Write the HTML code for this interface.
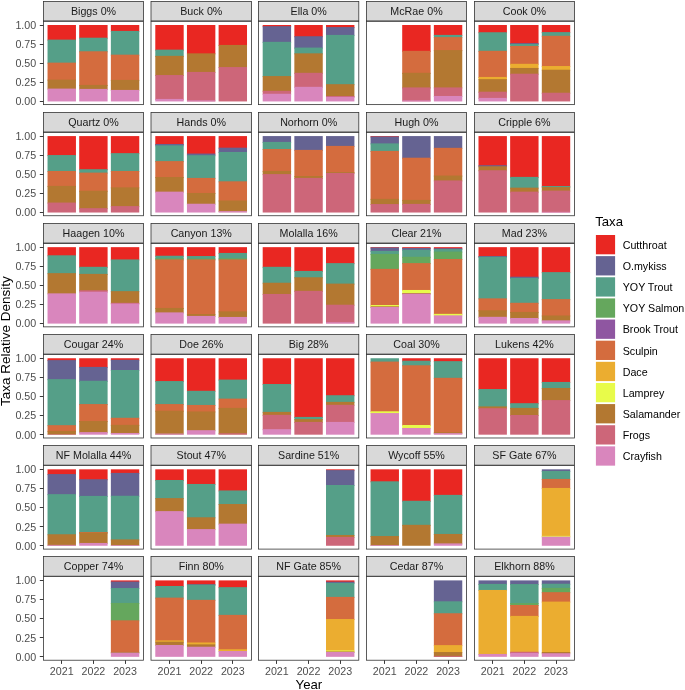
<!DOCTYPE html>
<html><head><meta charset="utf-8"><style>html,body{margin:0;padding:0;background:#fff;width:685px;height:690px;overflow:hidden;}svg{display:block;font-family:"Liberation Sans",sans-serif;will-change:transform;}</style></head><body>
<svg width="685" height="690" viewBox="0 0 685 690">
<rect x="0" y="0" width="685" height="690" fill="#FFFFFF"/>
<rect x="47.54" y="25" width="28.4" height="15.62" fill="#E92722"/>
<rect x="47.54" y="39.62" width="28.4" height="24.02" fill="#559F88"/>
<rect x="47.54" y="62.64" width="28.4" height="17.97" fill="#D46C3E"/>
<rect x="47.54" y="79.6" width="28.4" height="10" fill="#B37831"/>
<rect x="47.54" y="88.6" width="28.4" height="12.84" fill="#D986BD"/>
<rect x="79.2" y="25" width="28.4" height="13.7" fill="#E92722"/>
<rect x="79.2" y="37.7" width="28.4" height="14.57" fill="#559F88"/>
<rect x="79.2" y="51.28" width="28.4" height="34.64" fill="#D46C3E"/>
<rect x="79.2" y="84.92" width="28.4" height="4.98" fill="#B37831"/>
<rect x="79.2" y="88.9" width="28.4" height="12.54" fill="#D986BD"/>
<rect x="110.86" y="25" width="28.4" height="6.92" fill="#E92722"/>
<rect x="110.86" y="30.92" width="28.4" height="24.75" fill="#559F88"/>
<rect x="110.86" y="54.67" width="28.4" height="26.23" fill="#D46C3E"/>
<rect x="110.86" y="79.9" width="28.4" height="11.03" fill="#B37831"/>
<rect x="110.86" y="89.93" width="28.4" height="11.51" fill="#D986BD"/>
<rect x="43.5" y="21.3" width="100" height="83.32" fill="none" stroke="#333333" stroke-width="0.8"/>
<rect x="43.5" y="1.5" width="100" height="19.4" fill="#D9D9D9" stroke="#333333" stroke-width="0.8"/>
<text x="93.5" y="14.85" text-anchor="middle" font-size="10.7" fill="#1A1A1A" font-family="Liberation Sans, sans-serif">Biggs 0%</text>
<rect x="155.29" y="25" width="28.4" height="25.65" fill="#E92722"/>
<rect x="155.29" y="49.65" width="28.4" height="7.2" fill="#559F88"/>
<rect x="155.29" y="55.85" width="28.4" height="20.18" fill="#B37831"/>
<rect x="155.29" y="75.03" width="28.4" height="24.9" fill="#CD6679"/>
<rect x="155.29" y="98.93" width="28.4" height="2.51" fill="#D986BD"/>
<rect x="186.95" y="25" width="28.4" height="29.34" fill="#E92722"/>
<rect x="186.95" y="53.34" width="28.4" height="19.59" fill="#B37831"/>
<rect x="186.95" y="71.93" width="28.4" height="29.48" fill="#CD6679"/>
<rect x="186.95" y="100.41" width="28.4" height="1.03" fill="#D986BD"/>
<rect x="218.61" y="25" width="28.4" height="20.93" fill="#E92722"/>
<rect x="218.61" y="44.93" width="28.4" height="23.13" fill="#B37831"/>
<rect x="218.61" y="67.06" width="28.4" height="34.38" fill="#CD6679"/>
<rect x="151" y="21.3" width="100.5" height="83.32" fill="none" stroke="#333333" stroke-width="0.8"/>
<rect x="151" y="1.5" width="100.5" height="19.4" fill="#D9D9D9" stroke="#333333" stroke-width="0.8"/>
<text x="201.25" y="14.85" text-anchor="middle" font-size="10.7" fill="#1A1A1A" font-family="Liberation Sans, sans-serif">Buck 0%</text>
<rect x="262.69" y="25" width="28.4" height="2.2" fill="#E92722"/>
<rect x="262.69" y="26.2" width="28.4" height="16.64" fill="#656392"/>
<rect x="262.69" y="41.83" width="28.4" height="35.23" fill="#559F88"/>
<rect x="262.69" y="76.06" width="28.4" height="15.75" fill="#B37831"/>
<rect x="262.69" y="90.82" width="28.4" height="3.95" fill="#CD6679"/>
<rect x="262.69" y="93.77" width="28.4" height="7.67" fill="#D986BD"/>
<rect x="294.35" y="25" width="28.4" height="12.23" fill="#E92722"/>
<rect x="294.35" y="36.23" width="28.4" height="12.36" fill="#656392"/>
<rect x="294.35" y="47.59" width="28.4" height="6.75" fill="#559F88"/>
<rect x="294.35" y="53.34" width="28.4" height="20.48" fill="#B37831"/>
<rect x="294.35" y="72.82" width="28.4" height="15.02" fill="#CD6679"/>
<rect x="294.35" y="86.83" width="28.4" height="14.61" fill="#D986BD"/>
<rect x="326.01" y="25" width="28.4" height="3.08" fill="#E92722"/>
<rect x="326.01" y="27.08" width="28.4" height="8.82" fill="#656392"/>
<rect x="326.01" y="34.9" width="28.4" height="50.28" fill="#559F88"/>
<rect x="326.01" y="84.18" width="28.4" height="12.8" fill="#B37831"/>
<rect x="326.01" y="95.98" width="28.4" height="1.89" fill="#CD6679"/>
<rect x="326.01" y="96.87" width="28.4" height="4.57" fill="#D986BD"/>
<rect x="258.5" y="21.3" width="100.3" height="83.32" fill="none" stroke="#333333" stroke-width="0.8"/>
<rect x="258.5" y="1.5" width="100.3" height="19.4" fill="#D9D9D9" stroke="#333333" stroke-width="0.8"/>
<text x="308.65" y="14.85" text-anchor="middle" font-size="10.7" fill="#1A1A1A" font-family="Liberation Sans, sans-serif">Ella 0%</text>
<rect x="402.2" y="25" width="28.4" height="26.83" fill="#E92722"/>
<rect x="402.2" y="50.83" width="28.4" height="22.98" fill="#D46C3E"/>
<rect x="402.2" y="72.82" width="28.4" height="15.61" fill="#B37831"/>
<rect x="402.2" y="87.42" width="28.4" height="13.98" fill="#CD6679"/>
<rect x="402.2" y="100.41" width="28.4" height="1.03" fill="#D986BD"/>
<rect x="433.86" y="25" width="28.4" height="10.9" fill="#E92722"/>
<rect x="433.86" y="34.9" width="28.4" height="3.21" fill="#559F88"/>
<rect x="433.86" y="37.11" width="28.4" height="13.98" fill="#D46C3E"/>
<rect x="433.86" y="50.1" width="28.4" height="38.33" fill="#B37831"/>
<rect x="433.86" y="87.42" width="28.4" height="9.56" fill="#CD6679"/>
<rect x="433.86" y="95.98" width="28.4" height="5.46" fill="#D986BD"/>
<rect x="366.5" y="21.3" width="100" height="83.32" fill="none" stroke="#333333" stroke-width="0.8"/>
<rect x="366.5" y="1.5" width="100" height="19.4" fill="#D9D9D9" stroke="#333333" stroke-width="0.8"/>
<text x="416.5" y="14.85" text-anchor="middle" font-size="10.7" fill="#1A1A1A" font-family="Liberation Sans, sans-serif">McRae 0%</text>
<rect x="478.49" y="25" width="28.4" height="8.24" fill="#E92722"/>
<rect x="478.49" y="32.24" width="28.4" height="19.59" fill="#559F88"/>
<rect x="478.49" y="50.83" width="28.4" height="27.11" fill="#D46C3E"/>
<rect x="478.49" y="76.95" width="28.4" height="3.21" fill="#EBAD30"/>
<rect x="478.49" y="79.16" width="28.4" height="13.54" fill="#B37831"/>
<rect x="478.49" y="91.7" width="28.4" height="7.2" fill="#CD6679"/>
<rect x="478.49" y="97.9" width="28.4" height="3.54" fill="#D986BD"/>
<rect x="510.15" y="25" width="28.4" height="19.16" fill="#E92722"/>
<rect x="510.15" y="43.16" width="28.4" height="1.74" fill="#656392"/>
<rect x="510.15" y="43.9" width="28.4" height="3.07" fill="#559F88"/>
<rect x="510.15" y="45.97" width="28.4" height="18.85" fill="#D46C3E"/>
<rect x="510.15" y="63.82" width="28.4" height="5.13" fill="#EBAD30"/>
<rect x="510.15" y="67.95" width="28.4" height="6.75" fill="#B37831"/>
<rect x="510.15" y="73.7" width="28.4" height="27.74" fill="#CD6679"/>
<rect x="541.81" y="25" width="28.4" height="8.1" fill="#E92722"/>
<rect x="541.81" y="32.1" width="28.4" height="4.69" fill="#559F88"/>
<rect x="541.81" y="35.79" width="28.4" height="31.25" fill="#D46C3E"/>
<rect x="541.81" y="66.03" width="28.4" height="4.69" fill="#EBAD30"/>
<rect x="541.81" y="69.72" width="28.4" height="24.02" fill="#B37831"/>
<rect x="541.81" y="92.74" width="28.4" height="8.7" fill="#CD6679"/>
<rect x="474.4" y="21.3" width="100.1" height="83.32" fill="none" stroke="#333333" stroke-width="0.8"/>
<rect x="474.4" y="1.5" width="100.1" height="19.4" fill="#D9D9D9" stroke="#333333" stroke-width="0.8"/>
<text x="524.45" y="14.85" text-anchor="middle" font-size="10.7" fill="#1A1A1A" font-family="Liberation Sans, sans-serif">Cook 0%</text>
<line x1="39.8" y1="101.5" x2="43.5" y2="101.5" stroke="#3A3A3A" stroke-width="1"/>
<text x="36.2" y="105.29" text-anchor="end" font-size="10.7" fill="#4D4D4D" font-family="Liberation Sans, sans-serif">0.00</text>
<line x1="39.8" y1="82.5" x2="43.5" y2="82.5" stroke="#3A3A3A" stroke-width="1"/>
<text x="36.2" y="86.18" text-anchor="end" font-size="10.7" fill="#4D4D4D" font-family="Liberation Sans, sans-serif">0.25</text>
<line x1="39.8" y1="63.5" x2="43.5" y2="63.5" stroke="#3A3A3A" stroke-width="1"/>
<text x="36.2" y="67.07" text-anchor="end" font-size="10.7" fill="#4D4D4D" font-family="Liberation Sans, sans-serif">0.50</text>
<line x1="39.8" y1="44.5" x2="43.5" y2="44.5" stroke="#3A3A3A" stroke-width="1"/>
<text x="36.2" y="47.96" text-anchor="end" font-size="10.7" fill="#4D4D4D" font-family="Liberation Sans, sans-serif">0.75</text>
<line x1="39.8" y1="25.5" x2="43.5" y2="25.5" stroke="#3A3A3A" stroke-width="1"/>
<text x="36.2" y="28.85" text-anchor="end" font-size="10.7" fill="#4D4D4D" font-family="Liberation Sans, sans-serif">1.00</text>
<rect x="47.54" y="136.08" width="28.4" height="19.98" fill="#E92722"/>
<rect x="47.54" y="155.06" width="28.4" height="16.93" fill="#559F88"/>
<rect x="47.54" y="170.99" width="28.4" height="15.9" fill="#D46C3E"/>
<rect x="47.54" y="185.89" width="28.4" height="17.67" fill="#B37831"/>
<rect x="47.54" y="202.56" width="28.4" height="9.96" fill="#CD6679"/>
<rect x="79.2" y="136.08" width="28.4" height="34.14" fill="#E92722"/>
<rect x="79.2" y="169.22" width="28.4" height="4.39" fill="#559F88"/>
<rect x="79.2" y="172.61" width="28.4" height="19.15" fill="#D46C3E"/>
<rect x="79.2" y="190.76" width="28.4" height="18.41" fill="#B37831"/>
<rect x="79.2" y="208.17" width="28.4" height="4.35" fill="#CD6679"/>
<rect x="110.86" y="136.08" width="28.4" height="18.06" fill="#E92722"/>
<rect x="110.86" y="153.14" width="28.4" height="18.85" fill="#559F88"/>
<rect x="110.86" y="170.99" width="28.4" height="17.38" fill="#D46C3E"/>
<rect x="110.86" y="187.37" width="28.4" height="19.74" fill="#B37831"/>
<rect x="110.86" y="206.1" width="28.4" height="6.42" fill="#CD6679"/>
<rect x="43.5" y="132.36" width="100" height="83.38" fill="none" stroke="#333333" stroke-width="0.8"/>
<rect x="43.5" y="112.5" width="100" height="19.46" fill="#D9D9D9" stroke="#333333" stroke-width="0.8"/>
<text x="93.5" y="125.93" text-anchor="middle" font-size="10.7" fill="#1A1A1A" font-family="Liberation Sans, sans-serif">Quartz 0%</text>
<rect x="155.29" y="136.08" width="28.4" height="8.91" fill="#E92722"/>
<rect x="155.29" y="143.99" width="28.4" height="2.33" fill="#656392"/>
<rect x="155.29" y="145.32" width="28.4" height="16.79" fill="#559F88"/>
<rect x="155.29" y="161.11" width="28.4" height="16.93" fill="#D46C3E"/>
<rect x="155.29" y="177.04" width="28.4" height="15.61" fill="#B37831"/>
<rect x="155.29" y="191.64" width="28.4" height="20.88" fill="#D986BD"/>
<rect x="186.95" y="136.08" width="28.4" height="18.5" fill="#E92722"/>
<rect x="186.95" y="153.58" width="28.4" height="2.62" fill="#656392"/>
<rect x="186.95" y="155.21" width="28.4" height="23.72" fill="#559F88"/>
<rect x="186.95" y="177.92" width="28.4" height="16.05" fill="#D46C3E"/>
<rect x="186.95" y="192.97" width="28.4" height="11.77" fill="#B37831"/>
<rect x="186.95" y="203.74" width="28.4" height="8.78" fill="#D986BD"/>
<rect x="218.61" y="136.08" width="28.4" height="12.6" fill="#E92722"/>
<rect x="218.61" y="147.68" width="28.4" height="5.28" fill="#656392"/>
<rect x="218.61" y="151.96" width="28.4" height="30.36" fill="#559F88"/>
<rect x="218.61" y="181.32" width="28.4" height="20.18" fill="#D46C3E"/>
<rect x="218.61" y="200.5" width="28.4" height="11.62" fill="#B37831"/>
<rect x="218.61" y="211.12" width="28.4" height="1.4" fill="#D986BD"/>
<rect x="151" y="132.36" width="100.5" height="83.38" fill="none" stroke="#333333" stroke-width="0.8"/>
<rect x="151" y="112.5" width="100.5" height="19.46" fill="#D9D9D9" stroke="#333333" stroke-width="0.8"/>
<text x="201.25" y="125.93" text-anchor="middle" font-size="10.7" fill="#1A1A1A" font-family="Liberation Sans, sans-serif">Hands 0%</text>
<rect x="262.69" y="136.08" width="28.4" height="6.85" fill="#656392"/>
<rect x="262.69" y="141.93" width="28.4" height="8.08" fill="#559F88"/>
<rect x="262.69" y="149.01" width="28.4" height="22.98" fill="#D46C3E"/>
<rect x="262.69" y="170.99" width="28.4" height="4.1" fill="#B37831"/>
<rect x="262.69" y="174.09" width="28.4" height="38.43" fill="#CD6679"/>
<rect x="294.35" y="136.08" width="28.4" height="14.81" fill="#656392"/>
<rect x="294.35" y="149.89" width="28.4" height="27.11" fill="#D46C3E"/>
<rect x="294.35" y="176.01" width="28.4" height="2.92" fill="#B37831"/>
<rect x="294.35" y="177.92" width="28.4" height="34.6" fill="#CD6679"/>
<rect x="326.01" y="136.08" width="28.4" height="10.83" fill="#656392"/>
<rect x="326.01" y="145.91" width="28.4" height="27.11" fill="#D46C3E"/>
<rect x="326.01" y="172.02" width="28.4" height="1.89" fill="#B37831"/>
<rect x="326.01" y="172.91" width="28.4" height="39.61" fill="#CD6679"/>
<rect x="258.5" y="132.36" width="100.3" height="83.38" fill="none" stroke="#333333" stroke-width="0.8"/>
<rect x="258.5" y="112.5" width="100.3" height="19.46" fill="#D9D9D9" stroke="#333333" stroke-width="0.8"/>
<text x="308.65" y="125.93" text-anchor="middle" font-size="10.7" fill="#1A1A1A" font-family="Liberation Sans, sans-serif">Norhorn 0%</text>
<rect x="370.54" y="136.08" width="28.4" height="1.39" fill="#E92722"/>
<rect x="370.54" y="136.47" width="28.4" height="7.93" fill="#656392"/>
<rect x="370.54" y="143.4" width="28.4" height="8.52" fill="#559F88"/>
<rect x="370.54" y="150.93" width="28.4" height="48.95" fill="#D46C3E"/>
<rect x="370.54" y="198.87" width="28.4" height="6.16" fill="#B37831"/>
<rect x="370.54" y="204.04" width="28.4" height="8.48" fill="#CD6679"/>
<rect x="402.2" y="136.08" width="28.4" height="22.63" fill="#656392"/>
<rect x="402.2" y="157.71" width="28.4" height="43.19" fill="#D46C3E"/>
<rect x="402.2" y="199.91" width="28.4" height="4.98" fill="#B37831"/>
<rect x="402.2" y="203.89" width="28.4" height="8.63" fill="#CD6679"/>
<rect x="433.86" y="136.08" width="28.4" height="12.75" fill="#656392"/>
<rect x="433.86" y="147.83" width="28.4" height="28.74" fill="#D46C3E"/>
<rect x="433.86" y="175.56" width="28.4" height="5.87" fill="#B37831"/>
<rect x="433.86" y="180.43" width="28.4" height="32.09" fill="#CD6679"/>
<rect x="366.5" y="132.36" width="100" height="83.38" fill="none" stroke="#333333" stroke-width="0.8"/>
<rect x="366.5" y="112.5" width="100" height="19.46" fill="#D9D9D9" stroke="#333333" stroke-width="0.8"/>
<text x="416.5" y="125.93" text-anchor="middle" font-size="10.7" fill="#1A1A1A" font-family="Liberation Sans, sans-serif">Hugh 0%</text>
<rect x="478.49" y="136.08" width="28.4" height="30.16" fill="#E92722"/>
<rect x="478.49" y="165.24" width="28.4" height="2.03" fill="#656392"/>
<rect x="478.49" y="166.27" width="28.4" height="4.98" fill="#B37831"/>
<rect x="478.49" y="170.25" width="28.4" height="42.27" fill="#CD6679"/>
<rect x="510.15" y="136.08" width="28.4" height="41.81" fill="#E92722"/>
<rect x="510.15" y="176.89" width="28.4" height="11.77" fill="#559F88"/>
<rect x="510.15" y="187.66" width="28.4" height="4.98" fill="#B37831"/>
<rect x="510.15" y="191.64" width="28.4" height="20.88" fill="#CD6679"/>
<rect x="541.81" y="136.08" width="28.4" height="50.96" fill="#E92722"/>
<rect x="541.81" y="186.04" width="28.4" height="2.03" fill="#559F88"/>
<rect x="541.81" y="187.07" width="28.4" height="4.54" fill="#B37831"/>
<rect x="541.81" y="190.61" width="28.4" height="21.91" fill="#CD6679"/>
<rect x="541.81" y="211.86" width="28.4" height="0.66" fill="#D986BD"/>
<rect x="474.4" y="132.36" width="100.1" height="83.38" fill="none" stroke="#333333" stroke-width="0.8"/>
<rect x="474.4" y="112.5" width="100.1" height="19.46" fill="#D9D9D9" stroke="#333333" stroke-width="0.8"/>
<text x="524.45" y="125.93" text-anchor="middle" font-size="10.7" fill="#1A1A1A" font-family="Liberation Sans, sans-serif">Cripple 6%</text>
<line x1="39.8" y1="212.5" x2="43.5" y2="212.5" stroke="#3A3A3A" stroke-width="1"/>
<text x="36.2" y="216.37" text-anchor="end" font-size="10.7" fill="#4D4D4D" font-family="Liberation Sans, sans-serif">0.00</text>
<line x1="39.8" y1="193.5" x2="43.5" y2="193.5" stroke="#3A3A3A" stroke-width="1"/>
<text x="36.2" y="197.26" text-anchor="end" font-size="10.7" fill="#4D4D4D" font-family="Liberation Sans, sans-serif">0.25</text>
<line x1="39.8" y1="174.5" x2="43.5" y2="174.5" stroke="#3A3A3A" stroke-width="1"/>
<text x="36.2" y="178.15" text-anchor="end" font-size="10.7" fill="#4D4D4D" font-family="Liberation Sans, sans-serif">0.50</text>
<line x1="39.8" y1="155.5" x2="43.5" y2="155.5" stroke="#3A3A3A" stroke-width="1"/>
<text x="36.2" y="159.04" text-anchor="end" font-size="10.7" fill="#4D4D4D" font-family="Liberation Sans, sans-serif">0.75</text>
<line x1="39.8" y1="136.5" x2="43.5" y2="136.5" stroke="#3A3A3A" stroke-width="1"/>
<text x="36.2" y="139.93" text-anchor="end" font-size="10.7" fill="#4D4D4D" font-family="Liberation Sans, sans-serif">1.00</text>
<rect x="47.54" y="247.16" width="28.4" height="9.14" fill="#E92722"/>
<rect x="47.54" y="255.3" width="28.4" height="18.85" fill="#559F88"/>
<rect x="47.54" y="273.15" width="28.4" height="21.21" fill="#B37831"/>
<rect x="47.54" y="293.36" width="28.4" height="30.24" fill="#D986BD"/>
<rect x="79.2" y="247.16" width="28.4" height="20.65" fill="#E92722"/>
<rect x="79.2" y="266.81" width="28.4" height="8.08" fill="#559F88"/>
<rect x="79.2" y="273.89" width="28.4" height="17.37" fill="#B37831"/>
<rect x="79.2" y="290.26" width="28.4" height="2.48" fill="#CD6679"/>
<rect x="79.2" y="291.74" width="28.4" height="31.86" fill="#D986BD"/>
<rect x="110.86" y="247.16" width="28.4" height="13.27" fill="#E92722"/>
<rect x="110.86" y="259.43" width="28.4" height="32.72" fill="#559F88"/>
<rect x="110.86" y="291.15" width="28.4" height="12.65" fill="#B37831"/>
<rect x="110.86" y="302.8" width="28.4" height="1.74" fill="#CD6679"/>
<rect x="110.86" y="303.54" width="28.4" height="20.06" fill="#D986BD"/>
<rect x="43.5" y="243.42" width="100" height="83.44" fill="none" stroke="#333333" stroke-width="0.8"/>
<rect x="43.5" y="223.5" width="100" height="19.52" fill="#D9D9D9" stroke="#333333" stroke-width="0.8"/>
<text x="93.5" y="237.01" text-anchor="middle" font-size="10.7" fill="#1A1A1A" font-family="Liberation Sans, sans-serif">Haagen 10%</text>
<rect x="155.29" y="247.16" width="28.4" height="9.58" fill="#E92722"/>
<rect x="155.29" y="255.74" width="28.4" height="3.51" fill="#559F88"/>
<rect x="155.29" y="258.25" width="28.4" height="2.18" fill="#65A75D"/>
<rect x="155.29" y="259.43" width="28.4" height="49.53" fill="#D46C3E"/>
<rect x="155.29" y="307.96" width="28.4" height="5.43" fill="#B37831"/>
<rect x="155.29" y="312.39" width="28.4" height="11.21" fill="#D986BD"/>
<rect x="186.95" y="247.16" width="28.4" height="9.88" fill="#E92722"/>
<rect x="186.95" y="256.04" width="28.4" height="3.51" fill="#559F88"/>
<rect x="186.95" y="258.55" width="28.4" height="1.89" fill="#65A75D"/>
<rect x="186.95" y="259.43" width="28.4" height="55.58" fill="#D46C3E"/>
<rect x="186.95" y="314.01" width="28.4" height="2.92" fill="#B37831"/>
<rect x="186.95" y="315.93" width="28.4" height="7.67" fill="#D986BD"/>
<rect x="218.61" y="247.16" width="28.4" height="6.78" fill="#E92722"/>
<rect x="218.61" y="252.94" width="28.4" height="6.31" fill="#559F88"/>
<rect x="218.61" y="258.25" width="28.4" height="2.18" fill="#65A75D"/>
<rect x="218.61" y="259.43" width="28.4" height="52.93" fill="#D46C3E"/>
<rect x="218.61" y="311.36" width="28.4" height="6.61" fill="#B37831"/>
<rect x="218.61" y="316.96" width="28.4" height="6.64" fill="#D986BD"/>
<rect x="151" y="243.42" width="100.5" height="83.44" fill="none" stroke="#333333" stroke-width="0.8"/>
<rect x="151" y="223.5" width="100.5" height="19.52" fill="#D9D9D9" stroke="#333333" stroke-width="0.8"/>
<text x="201.25" y="237.01" text-anchor="middle" font-size="10.7" fill="#1A1A1A" font-family="Liberation Sans, sans-serif">Canyon 13%</text>
<rect x="262.69" y="247.16" width="28.4" height="20.65" fill="#E92722"/>
<rect x="262.69" y="266.81" width="28.4" height="16.93" fill="#559F88"/>
<rect x="262.69" y="282.74" width="28.4" height="12.21" fill="#B37831"/>
<rect x="262.69" y="293.95" width="28.4" height="29.65" fill="#CD6679"/>
<rect x="294.35" y="247.16" width="28.4" height="24.78" fill="#E92722"/>
<rect x="294.35" y="270.94" width="28.4" height="7.34" fill="#559F88"/>
<rect x="294.35" y="277.28" width="28.4" height="14.57" fill="#B37831"/>
<rect x="294.35" y="290.85" width="28.4" height="32.75" fill="#CD6679"/>
<rect x="326.01" y="247.16" width="28.4" height="16.96" fill="#E92722"/>
<rect x="326.01" y="263.12" width="28.4" height="21.5" fill="#559F88"/>
<rect x="326.01" y="283.62" width="28.4" height="22.09" fill="#B37831"/>
<rect x="326.01" y="304.72" width="28.4" height="18.55" fill="#CD6679"/>
<rect x="326.01" y="322.27" width="28.4" height="1.33" fill="#D986BD"/>
<rect x="258.5" y="243.42" width="100.3" height="83.44" fill="none" stroke="#333333" stroke-width="0.8"/>
<rect x="258.5" y="223.5" width="100.3" height="19.52" fill="#D9D9D9" stroke="#333333" stroke-width="0.8"/>
<text x="308.65" y="237.01" text-anchor="middle" font-size="10.7" fill="#1A1A1A" font-family="Liberation Sans, sans-serif">Molalla 16%</text>
<rect x="370.54" y="247.16" width="28.4" height="1.32" fill="#E92722"/>
<rect x="370.54" y="247.48" width="28.4" height="4.39" fill="#656392"/>
<rect x="370.54" y="250.87" width="28.4" height="4.1" fill="#559F88"/>
<rect x="370.54" y="253.97" width="28.4" height="15.9" fill="#65A75D"/>
<rect x="370.54" y="268.87" width="28.4" height="37.14" fill="#D46C3E"/>
<rect x="370.54" y="305.01" width="28.4" height="2.33" fill="#E8FB4A"/>
<rect x="370.54" y="306.34" width="28.4" height="1.59" fill="#B37831"/>
<rect x="370.54" y="306.93" width="28.4" height="16.67" fill="#D986BD"/>
<rect x="402.2" y="247.16" width="28.4" height="1.76" fill="#E92722"/>
<rect x="402.2" y="247.92" width="28.4" height="2.77" fill="#656392"/>
<rect x="402.2" y="249.69" width="28.4" height="8.08" fill="#559F88"/>
<rect x="402.2" y="256.78" width="28.4" height="7.34" fill="#65A75D"/>
<rect x="402.2" y="263.12" width="28.4" height="27.85" fill="#D46C3E"/>
<rect x="402.2" y="289.97" width="28.4" height="4.1" fill="#E8FB4A"/>
<rect x="402.2" y="293.06" width="28.4" height="1.59" fill="#B37831"/>
<rect x="402.2" y="293.65" width="28.4" height="29.95" fill="#D986BD"/>
<rect x="433.86" y="247.16" width="28.4" height="2.06" fill="#E92722"/>
<rect x="433.86" y="248.22" width="28.4" height="1.89" fill="#656392"/>
<rect x="433.86" y="249.1" width="28.4" height="3.51" fill="#559F88"/>
<rect x="433.86" y="251.61" width="28.4" height="8.38" fill="#65A75D"/>
<rect x="433.86" y="258.99" width="28.4" height="55.88" fill="#D46C3E"/>
<rect x="433.86" y="313.86" width="28.4" height="2.48" fill="#E8FB4A"/>
<rect x="433.86" y="315.34" width="28.4" height="8.26" fill="#D986BD"/>
<rect x="366.5" y="243.42" width="100" height="83.44" fill="none" stroke="#333333" stroke-width="0.8"/>
<rect x="366.5" y="223.5" width="100" height="19.52" fill="#D9D9D9" stroke="#333333" stroke-width="0.8"/>
<text x="416.5" y="237.01" text-anchor="middle" font-size="10.7" fill="#1A1A1A" font-family="Liberation Sans, sans-serif">Clear 21%</text>
<rect x="478.49" y="247.16" width="28.4" height="9.88" fill="#E92722"/>
<rect x="478.49" y="256.04" width="28.4" height="1.74" fill="#656392"/>
<rect x="478.49" y="256.78" width="28.4" height="42.6" fill="#559F88"/>
<rect x="478.49" y="298.37" width="28.4" height="12.95" fill="#D46C3E"/>
<rect x="478.49" y="310.32" width="28.4" height="7.49" fill="#B37831"/>
<rect x="478.49" y="316.81" width="28.4" height="6.79" fill="#D986BD"/>
<rect x="510.15" y="247.16" width="28.4" height="30.53" fill="#E92722"/>
<rect x="510.15" y="276.69" width="28.4" height="2.18" fill="#656392"/>
<rect x="510.15" y="277.87" width="28.4" height="25.93" fill="#559F88"/>
<rect x="510.15" y="302.8" width="28.4" height="10.15" fill="#D46C3E"/>
<rect x="510.15" y="311.95" width="28.4" height="7.05" fill="#B37831"/>
<rect x="510.15" y="317.99" width="28.4" height="5.61" fill="#D986BD"/>
<rect x="541.81" y="247.16" width="28.4" height="25.96" fill="#E92722"/>
<rect x="541.81" y="272.12" width="28.4" height="28" fill="#559F88"/>
<rect x="541.81" y="299.11" width="28.4" height="17.37" fill="#D46C3E"/>
<rect x="541.81" y="315.49" width="28.4" height="5.87" fill="#B37831"/>
<rect x="541.81" y="320.35" width="28.4" height="3.25" fill="#D986BD"/>
<rect x="474.4" y="243.42" width="100.1" height="83.44" fill="none" stroke="#333333" stroke-width="0.8"/>
<rect x="474.4" y="223.5" width="100.1" height="19.52" fill="#D9D9D9" stroke="#333333" stroke-width="0.8"/>
<text x="524.45" y="237.01" text-anchor="middle" font-size="10.7" fill="#1A1A1A" font-family="Liberation Sans, sans-serif">Mad 23%</text>
<line x1="39.8" y1="323.5" x2="43.5" y2="323.5" stroke="#3A3A3A" stroke-width="1"/>
<text x="36.2" y="327.45" text-anchor="end" font-size="10.7" fill="#4D4D4D" font-family="Liberation Sans, sans-serif">0.00</text>
<line x1="39.8" y1="304.5" x2="43.5" y2="304.5" stroke="#3A3A3A" stroke-width="1"/>
<text x="36.2" y="308.34" text-anchor="end" font-size="10.7" fill="#4D4D4D" font-family="Liberation Sans, sans-serif">0.25</text>
<line x1="39.8" y1="285.5" x2="43.5" y2="285.5" stroke="#3A3A3A" stroke-width="1"/>
<text x="36.2" y="289.23" text-anchor="end" font-size="10.7" fill="#4D4D4D" font-family="Liberation Sans, sans-serif">0.50</text>
<line x1="39.8" y1="266.5" x2="43.5" y2="266.5" stroke="#3A3A3A" stroke-width="1"/>
<text x="36.2" y="270.12" text-anchor="end" font-size="10.7" fill="#4D4D4D" font-family="Liberation Sans, sans-serif">0.75</text>
<line x1="39.8" y1="247.5" x2="43.5" y2="247.5" stroke="#3A3A3A" stroke-width="1"/>
<text x="36.2" y="251.01" text-anchor="end" font-size="10.7" fill="#4D4D4D" font-family="Liberation Sans, sans-serif">1.00</text>
<rect x="47.54" y="358.24" width="28.4" height="2.88" fill="#E92722"/>
<rect x="47.54" y="360.12" width="28.4" height="20.03" fill="#656392"/>
<rect x="47.54" y="379.14" width="28.4" height="47.02" fill="#559F88"/>
<rect x="47.54" y="425.17" width="28.4" height="6.75" fill="#D46C3E"/>
<rect x="47.54" y="430.92" width="28.4" height="3.76" fill="#B37831"/>
<rect x="47.54" y="434.16" width="28.4" height="0.52" fill="#CD6679"/>
<rect x="79.2" y="358.24" width="28.4" height="9.66" fill="#E92722"/>
<rect x="79.2" y="366.9" width="28.4" height="14.87" fill="#656392"/>
<rect x="79.2" y="380.77" width="28.4" height="24.31" fill="#559F88"/>
<rect x="79.2" y="404.07" width="28.4" height="17.96" fill="#D46C3E"/>
<rect x="79.2" y="421.04" width="28.4" height="12.06" fill="#B37831"/>
<rect x="79.2" y="432.1" width="28.4" height="2.58" fill="#D986BD"/>
<rect x="110.86" y="358.24" width="28.4" height="2.58" fill="#E92722"/>
<rect x="110.86" y="359.82" width="28.4" height="11.18" fill="#656392"/>
<rect x="110.86" y="370" width="28.4" height="48.79" fill="#559F88"/>
<rect x="110.86" y="417.79" width="28.4" height="8.08" fill="#D46C3E"/>
<rect x="110.86" y="424.87" width="28.4" height="9.11" fill="#B37831"/>
<rect x="110.86" y="432.98" width="28.4" height="1.7" fill="#D986BD"/>
<rect x="43.5" y="354.48" width="100" height="83.5" fill="none" stroke="#333333" stroke-width="0.8"/>
<rect x="43.5" y="334.5" width="100" height="19.58" fill="#D9D9D9" stroke="#333333" stroke-width="0.8"/>
<text x="93.5" y="348.09" text-anchor="middle" font-size="10.7" fill="#1A1A1A" font-family="Liberation Sans, sans-serif">Cougar 24%</text>
<rect x="155.29" y="358.24" width="28.4" height="23.82" fill="#E92722"/>
<rect x="155.29" y="381.06" width="28.4" height="24.01" fill="#559F88"/>
<rect x="155.29" y="404.07" width="28.4" height="7.64" fill="#D46C3E"/>
<rect x="155.29" y="410.71" width="28.4" height="23.86" fill="#B37831"/>
<rect x="155.29" y="433.57" width="28.4" height="1.11" fill="#D986BD"/>
<rect x="186.95" y="358.24" width="28.4" height="33.56" fill="#E92722"/>
<rect x="186.95" y="390.8" width="28.4" height="15.16" fill="#559F88"/>
<rect x="186.95" y="404.96" width="28.4" height="7.49" fill="#D46C3E"/>
<rect x="186.95" y="411.45" width="28.4" height="19.73" fill="#B37831"/>
<rect x="186.95" y="430.18" width="28.4" height="4.5" fill="#D986BD"/>
<rect x="218.61" y="358.24" width="28.4" height="22.35" fill="#E92722"/>
<rect x="218.61" y="379.59" width="28.4" height="20.03" fill="#559F88"/>
<rect x="218.61" y="398.62" width="28.4" height="10.29" fill="#D46C3E"/>
<rect x="218.61" y="407.91" width="28.4" height="26.37" fill="#B37831"/>
<rect x="218.61" y="433.28" width="28.4" height="1.4" fill="#CD6679"/>
<rect x="151" y="354.48" width="100.5" height="83.5" fill="none" stroke="#333333" stroke-width="0.8"/>
<rect x="151" y="334.5" width="100.5" height="19.58" fill="#D9D9D9" stroke="#333333" stroke-width="0.8"/>
<text x="201.25" y="348.09" text-anchor="middle" font-size="10.7" fill="#1A1A1A" font-family="Liberation Sans, sans-serif">Doe 26%</text>
<rect x="262.69" y="358.24" width="28.4" height="26.77" fill="#E92722"/>
<rect x="262.69" y="384.01" width="28.4" height="28.88" fill="#559F88"/>
<rect x="262.69" y="411.89" width="28.4" height="3.95" fill="#B37831"/>
<rect x="262.69" y="414.84" width="28.4" height="15.31" fill="#CD6679"/>
<rect x="262.69" y="429.15" width="28.4" height="5.53" fill="#D986BD"/>
<rect x="294.35" y="358.24" width="28.4" height="59.67" fill="#E92722"/>
<rect x="294.35" y="416.91" width="28.4" height="3.21" fill="#559F88"/>
<rect x="294.35" y="419.12" width="28.4" height="3.8" fill="#B37831"/>
<rect x="294.35" y="421.92" width="28.4" height="12.76" fill="#CD6679"/>
<rect x="326.01" y="358.24" width="28.4" height="37.98" fill="#E92722"/>
<rect x="326.01" y="395.22" width="28.4" height="7.64" fill="#559F88"/>
<rect x="326.01" y="401.86" width="28.4" height="3.95" fill="#B37831"/>
<rect x="326.01" y="404.81" width="28.4" height="18.11" fill="#CD6679"/>
<rect x="326.01" y="421.92" width="28.4" height="12.76" fill="#D986BD"/>
<rect x="258.5" y="354.48" width="100.3" height="83.5" fill="none" stroke="#333333" stroke-width="0.8"/>
<rect x="258.5" y="334.5" width="100.3" height="19.58" fill="#D9D9D9" stroke="#333333" stroke-width="0.8"/>
<text x="308.65" y="348.09" text-anchor="middle" font-size="10.7" fill="#1A1A1A" font-family="Liberation Sans, sans-serif">Big 28%</text>
<rect x="370.54" y="358.24" width="28.4" height="4.35" fill="#559F88"/>
<rect x="370.54" y="361.59" width="28.4" height="50.71" fill="#D46C3E"/>
<rect x="370.54" y="411.3" width="28.4" height="2.77" fill="#E8FB4A"/>
<rect x="370.54" y="413.07" width="28.4" height="21.61" fill="#D986BD"/>
<rect x="402.2" y="358.24" width="28.4" height="3.47" fill="#E92722"/>
<rect x="402.2" y="360.71" width="28.4" height="5.57" fill="#559F88"/>
<rect x="402.2" y="365.28" width="28.4" height="60.74" fill="#D46C3E"/>
<rect x="402.2" y="425.02" width="28.4" height="3.95" fill="#E8FB4A"/>
<rect x="402.2" y="427.97" width="28.4" height="6.71" fill="#D986BD"/>
<rect x="433.86" y="358.24" width="28.4" height="3.91" fill="#E92722"/>
<rect x="433.86" y="361.15" width="28.4" height="17.67" fill="#559F88"/>
<rect x="433.86" y="377.82" width="28.4" height="55.43" fill="#D46C3E"/>
<rect x="433.86" y="432.25" width="28.4" height="1.89" fill="#B37831"/>
<rect x="433.86" y="433.13" width="28.4" height="1.55" fill="#D986BD"/>
<rect x="366.5" y="354.48" width="100" height="83.5" fill="none" stroke="#333333" stroke-width="0.8"/>
<rect x="366.5" y="334.5" width="100" height="19.58" fill="#D9D9D9" stroke="#333333" stroke-width="0.8"/>
<text x="416.5" y="348.09" text-anchor="middle" font-size="10.7" fill="#1A1A1A" font-family="Liberation Sans, sans-serif">Coal 30%</text>
<rect x="478.49" y="358.24" width="28.4" height="31.79" fill="#E92722"/>
<rect x="478.49" y="389.03" width="28.4" height="18.41" fill="#559F88"/>
<rect x="478.49" y="406.43" width="28.4" height="2.77" fill="#B37831"/>
<rect x="478.49" y="408.2" width="28.4" height="26.48" fill="#CD6679"/>
<rect x="510.15" y="358.24" width="28.4" height="45.95" fill="#E92722"/>
<rect x="510.15" y="403.19" width="28.4" height="5.72" fill="#559F88"/>
<rect x="510.15" y="407.91" width="28.4" height="8.08" fill="#B37831"/>
<rect x="510.15" y="414.99" width="28.4" height="19.69" fill="#CD6679"/>
<rect x="541.81" y="358.24" width="28.4" height="24.71" fill="#E92722"/>
<rect x="541.81" y="381.95" width="28.4" height="7.05" fill="#559F88"/>
<rect x="541.81" y="387.99" width="28.4" height="13.1" fill="#B37831"/>
<rect x="541.81" y="400.09" width="28.4" height="34.59" fill="#CD6679"/>
<rect x="474.4" y="354.48" width="100.1" height="83.5" fill="none" stroke="#333333" stroke-width="0.8"/>
<rect x="474.4" y="334.5" width="100.1" height="19.58" fill="#D9D9D9" stroke="#333333" stroke-width="0.8"/>
<text x="524.45" y="348.09" text-anchor="middle" font-size="10.7" fill="#1A1A1A" font-family="Liberation Sans, sans-serif">Lukens 42%</text>
<line x1="39.8" y1="434.5" x2="43.5" y2="434.5" stroke="#3A3A3A" stroke-width="1"/>
<text x="36.2" y="438.53" text-anchor="end" font-size="10.7" fill="#4D4D4D" font-family="Liberation Sans, sans-serif">0.00</text>
<line x1="39.8" y1="415.5" x2="43.5" y2="415.5" stroke="#3A3A3A" stroke-width="1"/>
<text x="36.2" y="419.42" text-anchor="end" font-size="10.7" fill="#4D4D4D" font-family="Liberation Sans, sans-serif">0.25</text>
<line x1="39.8" y1="396.5" x2="43.5" y2="396.5" stroke="#3A3A3A" stroke-width="1"/>
<text x="36.2" y="400.31" text-anchor="end" font-size="10.7" fill="#4D4D4D" font-family="Liberation Sans, sans-serif">0.50</text>
<line x1="39.8" y1="377.5" x2="43.5" y2="377.5" stroke="#3A3A3A" stroke-width="1"/>
<text x="36.2" y="381.2" text-anchor="end" font-size="10.7" fill="#4D4D4D" font-family="Liberation Sans, sans-serif">0.75</text>
<line x1="39.8" y1="358.5" x2="43.5" y2="358.5" stroke="#3A3A3A" stroke-width="1"/>
<text x="36.2" y="362.09" text-anchor="end" font-size="10.7" fill="#4D4D4D" font-family="Liberation Sans, sans-serif">1.00</text>
<rect x="47.54" y="469.32" width="28.4" height="5.76" fill="#E92722"/>
<rect x="47.54" y="474.08" width="28.4" height="21.06" fill="#656392"/>
<rect x="47.54" y="494.14" width="28.4" height="41.12" fill="#559F88"/>
<rect x="47.54" y="534.26" width="28.4" height="11.5" fill="#B37831"/>
<rect x="47.54" y="544.88" width="28.4" height="0.88" fill="#D986BD"/>
<rect x="79.2" y="469.32" width="28.4" height="10.92" fill="#E92722"/>
<rect x="79.2" y="479.24" width="28.4" height="17.67" fill="#656392"/>
<rect x="79.2" y="495.91" width="28.4" height="37.14" fill="#559F88"/>
<rect x="79.2" y="532.04" width="28.4" height="1.59" fill="#D46C3E"/>
<rect x="79.2" y="532.63" width="28.4" height="11.32" fill="#B37831"/>
<rect x="79.2" y="542.96" width="28.4" height="2.8" fill="#D986BD"/>
<rect x="110.86" y="469.32" width="28.4" height="4.58" fill="#E92722"/>
<rect x="110.86" y="472.9" width="28.4" height="23.86" fill="#656392"/>
<rect x="110.86" y="495.76" width="28.4" height="44.66" fill="#559F88"/>
<rect x="110.86" y="539.42" width="28.4" height="6.34" fill="#B37831"/>
<rect x="110.86" y="545.02" width="28.4" height="0.74" fill="#D986BD"/>
<rect x="43.5" y="465.54" width="100" height="83.56" fill="none" stroke="#333333" stroke-width="0.8"/>
<rect x="43.5" y="445.5" width="100" height="19.64" fill="#D9D9D9" stroke="#333333" stroke-width="0.8"/>
<text x="93.5" y="459.17" text-anchor="middle" font-size="10.7" fill="#1A1A1A" font-family="Liberation Sans, sans-serif">NF Molalla 44%</text>
<rect x="155.29" y="469.32" width="28.4" height="11.66" fill="#E92722"/>
<rect x="155.29" y="479.98" width="28.4" height="19.14" fill="#559F88"/>
<rect x="155.29" y="498.12" width="28.4" height="13.98" fill="#B37831"/>
<rect x="155.29" y="511.1" width="28.4" height="34.66" fill="#D986BD"/>
<rect x="186.95" y="469.32" width="28.4" height="15.64" fill="#E92722"/>
<rect x="186.95" y="483.96" width="28.4" height="34.33" fill="#559F88"/>
<rect x="186.95" y="517.29" width="28.4" height="12.8" fill="#B37831"/>
<rect x="186.95" y="529.09" width="28.4" height="16.67" fill="#D986BD"/>
<rect x="218.61" y="469.32" width="28.4" height="22.13" fill="#E92722"/>
<rect x="218.61" y="490.45" width="28.4" height="14.57" fill="#559F88"/>
<rect x="218.61" y="504.02" width="28.4" height="20.62" fill="#B37831"/>
<rect x="218.61" y="523.64" width="28.4" height="22.12" fill="#D986BD"/>
<rect x="151" y="465.54" width="100.5" height="83.56" fill="none" stroke="#333333" stroke-width="0.8"/>
<rect x="151" y="445.5" width="100.5" height="19.64" fill="#D9D9D9" stroke="#333333" stroke-width="0.8"/>
<text x="201.25" y="459.17" text-anchor="middle" font-size="10.7" fill="#1A1A1A" font-family="Liberation Sans, sans-serif">Stout 47%</text>
<rect x="326.01" y="469.32" width="28.4" height="1.78" fill="#E92722"/>
<rect x="326.01" y="470.1" width="28.4" height="15.9" fill="#656392"/>
<rect x="326.01" y="484.99" width="28.4" height="51" fill="#559F88"/>
<rect x="326.01" y="534.99" width="28.4" height="2.92" fill="#B37831"/>
<rect x="326.01" y="536.91" width="28.4" height="8.85" fill="#CD6679"/>
<rect x="258.5" y="465.54" width="100.3" height="83.56" fill="none" stroke="#333333" stroke-width="0.8"/>
<rect x="258.5" y="445.5" width="100.3" height="19.64" fill="#D9D9D9" stroke="#333333" stroke-width="0.8"/>
<text x="308.65" y="459.17" text-anchor="middle" font-size="10.7" fill="#1A1A1A" font-family="Liberation Sans, sans-serif">Sardine 51%</text>
<rect x="370.54" y="469.32" width="28.4" height="12.99" fill="#E92722"/>
<rect x="370.54" y="481.31" width="28.4" height="55.72" fill="#559F88"/>
<rect x="370.54" y="536.03" width="28.4" height="9.73" fill="#B37831"/>
<rect x="370.54" y="545.02" width="28.4" height="0.74" fill="#D986BD"/>
<rect x="402.2" y="469.32" width="28.4" height="32.45" fill="#E92722"/>
<rect x="402.2" y="500.77" width="28.4" height="25.04" fill="#559F88"/>
<rect x="402.2" y="524.82" width="28.4" height="20.94" fill="#B37831"/>
<rect x="433.86" y="469.32" width="28.4" height="26.55" fill="#E92722"/>
<rect x="433.86" y="494.87" width="28.4" height="40.09" fill="#559F88"/>
<rect x="433.86" y="533.96" width="28.4" height="10.44" fill="#B37831"/>
<rect x="433.86" y="543.4" width="28.4" height="2.36" fill="#D986BD"/>
<rect x="366.5" y="465.54" width="100" height="83.56" fill="none" stroke="#333333" stroke-width="0.8"/>
<rect x="366.5" y="445.5" width="100" height="19.64" fill="#D9D9D9" stroke="#333333" stroke-width="0.8"/>
<text x="416.5" y="459.17" text-anchor="middle" font-size="10.7" fill="#1A1A1A" font-family="Liberation Sans, sans-serif">Wycoff 55%</text>
<rect x="541.81" y="469.32" width="28.4" height="2.66" fill="#656392"/>
<rect x="541.81" y="470.98" width="28.4" height="8.96" fill="#559F88"/>
<rect x="541.81" y="478.95" width="28.4" height="10" fill="#D46C3E"/>
<rect x="541.81" y="487.94" width="28.4" height="48.94" fill="#EBAD30"/>
<rect x="541.81" y="535.88" width="28.4" height="1.74" fill="#E8FB4A"/>
<rect x="541.81" y="536.62" width="28.4" height="9.14" fill="#D986BD"/>
<rect x="474.4" y="465.54" width="100.1" height="83.56" fill="none" stroke="#333333" stroke-width="0.8"/>
<rect x="474.4" y="445.5" width="100.1" height="19.64" fill="#D9D9D9" stroke="#333333" stroke-width="0.8"/>
<text x="524.45" y="459.17" text-anchor="middle" font-size="10.7" fill="#1A1A1A" font-family="Liberation Sans, sans-serif">SF Gate 67%</text>
<line x1="39.8" y1="545.5" x2="43.5" y2="545.5" stroke="#3A3A3A" stroke-width="1"/>
<text x="36.2" y="549.61" text-anchor="end" font-size="10.7" fill="#4D4D4D" font-family="Liberation Sans, sans-serif">0.00</text>
<line x1="39.8" y1="526.5" x2="43.5" y2="526.5" stroke="#3A3A3A" stroke-width="1"/>
<text x="36.2" y="530.5" text-anchor="end" font-size="10.7" fill="#4D4D4D" font-family="Liberation Sans, sans-serif">0.25</text>
<line x1="39.8" y1="507.5" x2="43.5" y2="507.5" stroke="#3A3A3A" stroke-width="1"/>
<text x="36.2" y="511.39" text-anchor="end" font-size="10.7" fill="#4D4D4D" font-family="Liberation Sans, sans-serif">0.50</text>
<line x1="39.8" y1="488.5" x2="43.5" y2="488.5" stroke="#3A3A3A" stroke-width="1"/>
<text x="36.2" y="492.28" text-anchor="end" font-size="10.7" fill="#4D4D4D" font-family="Liberation Sans, sans-serif">0.75</text>
<line x1="39.8" y1="469.5" x2="43.5" y2="469.5" stroke="#3A3A3A" stroke-width="1"/>
<text x="36.2" y="473.17" text-anchor="end" font-size="10.7" fill="#4D4D4D" font-family="Liberation Sans, sans-serif">1.00</text>
<rect x="110.86" y="580.4" width="28.4" height="2.15" fill="#E92722"/>
<rect x="110.86" y="581.55" width="28.4" height="7.49" fill="#656392"/>
<rect x="110.86" y="588.04" width="28.4" height="15.9" fill="#559F88"/>
<rect x="110.86" y="602.94" width="28.4" height="18.4" fill="#65A75D"/>
<rect x="110.86" y="620.34" width="28.4" height="32.56" fill="#D46C3E"/>
<rect x="110.86" y="651.9" width="28.4" height="1.74" fill="#B37831"/>
<rect x="110.86" y="652.64" width="28.4" height="4.2" fill="#D986BD"/>
<rect x="43.5" y="576.6" width="100" height="83.62" fill="none" stroke="#333333" stroke-width="0.8"/>
<rect x="43.5" y="556.5" width="100" height="19.7" fill="#D9D9D9" stroke="#333333" stroke-width="0.8"/>
<text x="93.5" y="570.25" text-anchor="middle" font-size="10.7" fill="#1A1A1A" font-family="Liberation Sans, sans-serif">Copper 74%</text>
<rect x="155.29" y="580.4" width="28.4" height="6.57" fill="#E92722"/>
<rect x="155.29" y="585.97" width="28.4" height="12.65" fill="#559F88"/>
<rect x="155.29" y="597.63" width="28.4" height="43.77" fill="#D46C3E"/>
<rect x="155.29" y="640.4" width="28.4" height="2.33" fill="#EBAD30"/>
<rect x="155.29" y="641.72" width="28.4" height="4.24" fill="#B37831"/>
<rect x="155.29" y="644.97" width="28.4" height="11.87" fill="#D986BD"/>
<rect x="186.95" y="580.4" width="28.4" height="4.81" fill="#E92722"/>
<rect x="186.95" y="584.21" width="28.4" height="1.44" fill="#656392"/>
<rect x="186.95" y="584.65" width="28.4" height="16.19" fill="#559F88"/>
<rect x="186.95" y="599.84" width="28.4" height="43.62" fill="#D46C3E"/>
<rect x="186.95" y="642.46" width="28.4" height="2.92" fill="#EBAD30"/>
<rect x="186.95" y="644.38" width="28.4" height="3.36" fill="#B37831"/>
<rect x="186.95" y="646.74" width="28.4" height="10.1" fill="#D986BD"/>
<rect x="218.61" y="580.4" width="28.4" height="7.75" fill="#E92722"/>
<rect x="218.61" y="587.15" width="28.4" height="28.73" fill="#559F88"/>
<rect x="218.61" y="614.88" width="28.4" height="35.36" fill="#D46C3E"/>
<rect x="218.61" y="649.24" width="28.4" height="2.77" fill="#EBAD30"/>
<rect x="218.61" y="651.01" width="28.4" height="5.83" fill="#D986BD"/>
<rect x="151" y="576.6" width="100.5" height="83.62" fill="none" stroke="#333333" stroke-width="0.8"/>
<rect x="151" y="556.5" width="100.5" height="19.7" fill="#D9D9D9" stroke="#333333" stroke-width="0.8"/>
<text x="201.25" y="570.25" text-anchor="middle" font-size="10.7" fill="#1A1A1A" font-family="Liberation Sans, sans-serif">Finn 80%</text>
<rect x="326.01" y="580.4" width="28.4" height="2.3" fill="#E92722"/>
<rect x="326.01" y="581.7" width="28.4" height="2.18" fill="#656392"/>
<rect x="326.01" y="582.88" width="28.4" height="15.01" fill="#559F88"/>
<rect x="326.01" y="596.89" width="28.4" height="23.12" fill="#D46C3E"/>
<rect x="326.01" y="619.01" width="28.4" height="32.41" fill="#EBAD30"/>
<rect x="326.01" y="650.42" width="28.4" height="2.03" fill="#E8FB4A"/>
<rect x="326.01" y="651.46" width="28.4" height="1.44" fill="#B37831"/>
<rect x="326.01" y="651.9" width="28.4" height="4.94" fill="#D986BD"/>
<rect x="258.5" y="576.6" width="100.3" height="83.62" fill="none" stroke="#333333" stroke-width="0.8"/>
<rect x="258.5" y="556.5" width="100.3" height="19.7" fill="#D9D9D9" stroke="#333333" stroke-width="0.8"/>
<text x="308.65" y="570.25" text-anchor="middle" font-size="10.7" fill="#1A1A1A" font-family="Liberation Sans, sans-serif">NF Gate 85%</text>
<rect x="433.86" y="580.4" width="28.4" height="21.91" fill="#656392"/>
<rect x="433.86" y="601.31" width="28.4" height="12.95" fill="#559F88"/>
<rect x="433.86" y="613.26" width="28.4" height="32.86" fill="#D46C3E"/>
<rect x="433.86" y="645.12" width="28.4" height="7.93" fill="#EBAD30"/>
<rect x="433.86" y="652.05" width="28.4" height="4.79" fill="#B37831"/>
<rect x="433.86" y="655.88" width="28.4" height="0.96" fill="#CD6679"/>
<rect x="366.5" y="576.6" width="100" height="83.62" fill="none" stroke="#333333" stroke-width="0.8"/>
<rect x="366.5" y="556.5" width="100" height="19.7" fill="#D9D9D9" stroke="#333333" stroke-width="0.8"/>
<text x="416.5" y="570.25" text-anchor="middle" font-size="10.7" fill="#1A1A1A" font-family="Liberation Sans, sans-serif">Cedar 87%</text>
<rect x="478.49" y="580.4" width="28.4" height="4.51" fill="#656392"/>
<rect x="478.49" y="583.91" width="28.4" height="7.05" fill="#559F88"/>
<rect x="478.49" y="589.96" width="28.4" height="65.01" fill="#EBAD30"/>
<rect x="478.49" y="653.96" width="28.4" height="2.88" fill="#D986BD"/>
<rect x="510.15" y="580.4" width="28.4" height="4.66" fill="#656392"/>
<rect x="510.15" y="584.06" width="28.4" height="20.03" fill="#559F88"/>
<rect x="510.15" y="603.08" width="28.4" height="2.92" fill="#65A75D"/>
<rect x="510.15" y="605" width="28.4" height="11.91" fill="#D46C3E"/>
<rect x="510.15" y="615.91" width="28.4" height="36.84" fill="#EBAD30"/>
<rect x="510.15" y="651.75" width="28.4" height="2.18" fill="#CD6679"/>
<rect x="510.15" y="652.93" width="28.4" height="3.91" fill="#D986BD"/>
<rect x="541.81" y="580.4" width="28.4" height="4.36" fill="#656392"/>
<rect x="541.81" y="583.76" width="28.4" height="5.13" fill="#559F88"/>
<rect x="541.81" y="587.89" width="28.4" height="5.28" fill="#65A75D"/>
<rect x="541.81" y="592.17" width="28.4" height="10.44" fill="#D46C3E"/>
<rect x="541.81" y="601.61" width="28.4" height="51.44" fill="#EBAD30"/>
<rect x="541.81" y="652.05" width="28.4" height="2.18" fill="#B37831"/>
<rect x="541.81" y="653.23" width="28.4" height="3.61" fill="#D986BD"/>
<rect x="474.4" y="576.6" width="100.1" height="83.62" fill="none" stroke="#333333" stroke-width="0.8"/>
<rect x="474.4" y="556.5" width="100.1" height="19.7" fill="#D9D9D9" stroke="#333333" stroke-width="0.8"/>
<text x="524.45" y="570.25" text-anchor="middle" font-size="10.7" fill="#1A1A1A" font-family="Liberation Sans, sans-serif">Elkhorn 88%</text>
<line x1="39.8" y1="656.5" x2="43.5" y2="656.5" stroke="#3A3A3A" stroke-width="1"/>
<text x="36.2" y="660.69" text-anchor="end" font-size="10.7" fill="#4D4D4D" font-family="Liberation Sans, sans-serif">0.00</text>
<line x1="39.8" y1="637.5" x2="43.5" y2="637.5" stroke="#3A3A3A" stroke-width="1"/>
<text x="36.2" y="641.58" text-anchor="end" font-size="10.7" fill="#4D4D4D" font-family="Liberation Sans, sans-serif">0.25</text>
<line x1="39.8" y1="618.5" x2="43.5" y2="618.5" stroke="#3A3A3A" stroke-width="1"/>
<text x="36.2" y="622.47" text-anchor="end" font-size="10.7" fill="#4D4D4D" font-family="Liberation Sans, sans-serif">0.50</text>
<line x1="39.8" y1="599.5" x2="43.5" y2="599.5" stroke="#3A3A3A" stroke-width="1"/>
<text x="36.2" y="603.36" text-anchor="end" font-size="10.7" fill="#4D4D4D" font-family="Liberation Sans, sans-serif">0.75</text>
<line x1="39.8" y1="580.5" x2="43.5" y2="580.5" stroke="#3A3A3A" stroke-width="1"/>
<text x="36.2" y="584.25" text-anchor="end" font-size="10.7" fill="#4D4D4D" font-family="Liberation Sans, sans-serif">1.00</text>
<line x1="61.5" y1="660.22" x2="61.5" y2="663.92" stroke="#3A3A3A" stroke-width="1"/>
<text x="61.74" y="674.7" text-anchor="middle" font-size="10.7" fill="#4D4D4D" font-family="Liberation Sans, sans-serif">2021</text>
<line x1="93.5" y1="660.22" x2="93.5" y2="663.92" stroke="#3A3A3A" stroke-width="1"/>
<text x="93.4" y="674.7" text-anchor="middle" font-size="10.7" fill="#4D4D4D" font-family="Liberation Sans, sans-serif">2022</text>
<line x1="125.5" y1="660.22" x2="125.5" y2="663.92" stroke="#3A3A3A" stroke-width="1"/>
<text x="125.06" y="674.7" text-anchor="middle" font-size="10.7" fill="#4D4D4D" font-family="Liberation Sans, sans-serif">2023</text>
<line x1="169.5" y1="660.22" x2="169.5" y2="663.92" stroke="#3A3A3A" stroke-width="1"/>
<text x="169.49" y="674.7" text-anchor="middle" font-size="10.7" fill="#4D4D4D" font-family="Liberation Sans, sans-serif">2021</text>
<line x1="201.5" y1="660.22" x2="201.5" y2="663.92" stroke="#3A3A3A" stroke-width="1"/>
<text x="201.15" y="674.7" text-anchor="middle" font-size="10.7" fill="#4D4D4D" font-family="Liberation Sans, sans-serif">2022</text>
<line x1="232.5" y1="660.22" x2="232.5" y2="663.92" stroke="#3A3A3A" stroke-width="1"/>
<text x="232.81" y="674.7" text-anchor="middle" font-size="10.7" fill="#4D4D4D" font-family="Liberation Sans, sans-serif">2023</text>
<line x1="276.5" y1="660.22" x2="276.5" y2="663.92" stroke="#3A3A3A" stroke-width="1"/>
<text x="276.89" y="674.7" text-anchor="middle" font-size="10.7" fill="#4D4D4D" font-family="Liberation Sans, sans-serif">2021</text>
<line x1="308.5" y1="660.22" x2="308.5" y2="663.92" stroke="#3A3A3A" stroke-width="1"/>
<text x="308.55" y="674.7" text-anchor="middle" font-size="10.7" fill="#4D4D4D" font-family="Liberation Sans, sans-serif">2022</text>
<line x1="340.5" y1="660.22" x2="340.5" y2="663.92" stroke="#3A3A3A" stroke-width="1"/>
<text x="340.21" y="674.7" text-anchor="middle" font-size="10.7" fill="#4D4D4D" font-family="Liberation Sans, sans-serif">2023</text>
<line x1="384.5" y1="660.22" x2="384.5" y2="663.92" stroke="#3A3A3A" stroke-width="1"/>
<text x="384.74" y="674.7" text-anchor="middle" font-size="10.7" fill="#4D4D4D" font-family="Liberation Sans, sans-serif">2021</text>
<line x1="416.5" y1="660.22" x2="416.5" y2="663.92" stroke="#3A3A3A" stroke-width="1"/>
<text x="416.4" y="674.7" text-anchor="middle" font-size="10.7" fill="#4D4D4D" font-family="Liberation Sans, sans-serif">2022</text>
<line x1="448.5" y1="660.22" x2="448.5" y2="663.92" stroke="#3A3A3A" stroke-width="1"/>
<text x="448.06" y="674.7" text-anchor="middle" font-size="10.7" fill="#4D4D4D" font-family="Liberation Sans, sans-serif">2023</text>
<line x1="492.5" y1="660.22" x2="492.5" y2="663.92" stroke="#3A3A3A" stroke-width="1"/>
<text x="492.69" y="674.7" text-anchor="middle" font-size="10.7" fill="#4D4D4D" font-family="Liberation Sans, sans-serif">2021</text>
<line x1="524.5" y1="660.22" x2="524.5" y2="663.92" stroke="#3A3A3A" stroke-width="1"/>
<text x="524.35" y="674.7" text-anchor="middle" font-size="10.7" fill="#4D4D4D" font-family="Liberation Sans, sans-serif">2022</text>
<line x1="556.5" y1="660.22" x2="556.5" y2="663.92" stroke="#3A3A3A" stroke-width="1"/>
<text x="556.01" y="674.7" text-anchor="middle" font-size="10.7" fill="#4D4D4D" font-family="Liberation Sans, sans-serif">2023</text>
<text x="308.9" y="688.6" text-anchor="middle" font-size="13.2" fill="#000000" font-family="Liberation Sans, sans-serif">Year</text>
<text transform="translate(9.9,341.1) rotate(-90)" x="0" y="0" text-anchor="middle" font-size="13.5" fill="#000000" font-family="Liberation Sans, sans-serif">Taxa Relative Density</text>
<text x="595.2" y="226" font-size="13.2" fill="#000000" font-family="Liberation Sans, sans-serif">Taxa</text>
<rect x="595.9" y="235" width="19.2" height="19.3" fill="#E92722"/>
<text x="622.7" y="248.85" font-size="10.7" fill="#000000" font-family="Liberation Sans, sans-serif">Cutthroat</text>
<rect x="595.9" y="256.13" width="19.2" height="19.3" fill="#656392"/>
<text x="622.7" y="269.98" font-size="10.7" fill="#000000" font-family="Liberation Sans, sans-serif">O.mykiss</text>
<rect x="595.9" y="277.27" width="19.2" height="19.3" fill="#559F88"/>
<text x="622.7" y="291.12" font-size="10.7" fill="#000000" font-family="Liberation Sans, sans-serif">YOY Trout</text>
<rect x="595.9" y="298.4" width="19.2" height="19.3" fill="#65A75D"/>
<text x="622.7" y="312.25" font-size="10.7" fill="#000000" font-family="Liberation Sans, sans-serif">YOY Salmon</text>
<rect x="595.9" y="319.54" width="19.2" height="19.3" fill="#8F56A1"/>
<text x="622.7" y="333.39" font-size="10.7" fill="#000000" font-family="Liberation Sans, sans-serif">Brook Trout</text>
<rect x="595.9" y="340.68" width="19.2" height="19.3" fill="#D46C3E"/>
<text x="622.7" y="354.52" font-size="10.7" fill="#000000" font-family="Liberation Sans, sans-serif">Sculpin</text>
<rect x="595.9" y="361.81" width="19.2" height="19.3" fill="#EBAD30"/>
<text x="622.7" y="375.66" font-size="10.7" fill="#000000" font-family="Liberation Sans, sans-serif">Dace</text>
<rect x="595.9" y="382.95" width="19.2" height="19.3" fill="#E8FB4A"/>
<text x="622.7" y="396.8" font-size="10.7" fill="#000000" font-family="Liberation Sans, sans-serif">Lamprey</text>
<rect x="595.9" y="404.08" width="19.2" height="19.3" fill="#B37831"/>
<text x="622.7" y="417.93" font-size="10.7" fill="#000000" font-family="Liberation Sans, sans-serif">Salamander</text>
<rect x="595.9" y="425.22" width="19.2" height="19.3" fill="#CD6679"/>
<text x="622.7" y="439.06" font-size="10.7" fill="#000000" font-family="Liberation Sans, sans-serif">Frogs</text>
<rect x="595.9" y="446.35" width="19.2" height="19.3" fill="#D986BD"/>
<text x="622.7" y="460.2" font-size="10.7" fill="#000000" font-family="Liberation Sans, sans-serif">Crayfish</text>
</svg>
</body></html>
